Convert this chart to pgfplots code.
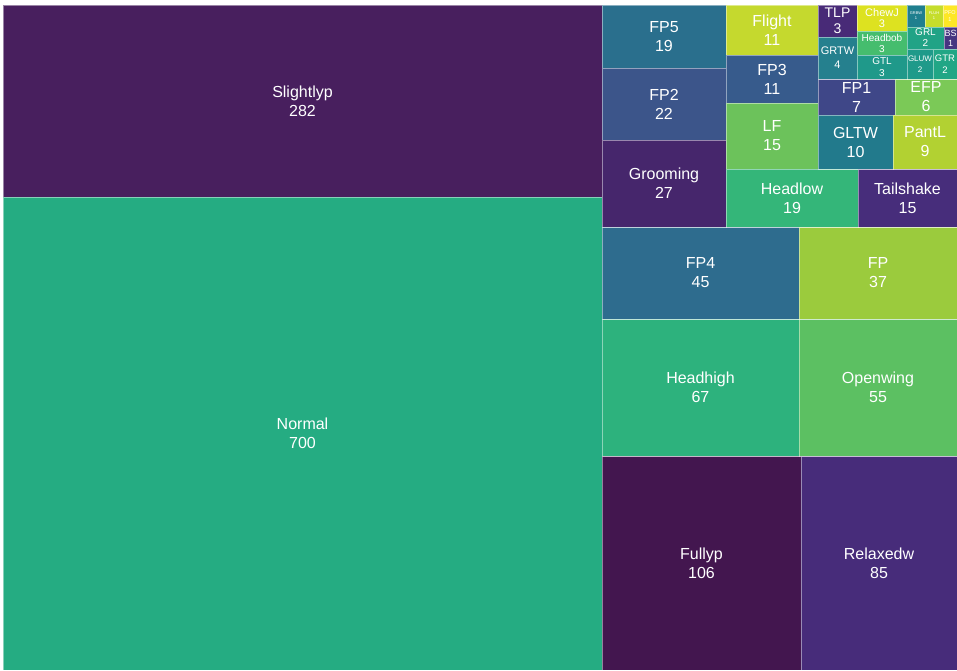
\documentclass[border=0pt]{standalone}
\usepackage{pgfplots}
\pgfplotsset{compat=1.18}
\usepackage{fontspec}
\setmainfont{Liberation Sans}
\definecolor{cSlight}{HTML}{481F5E}
\definecolor{cNormal}{HTML}{25AC82}
\definecolor{cFully}{HTML}{43164F}
\definecolor{cRelax}{HTML}{472C7A}
\definecolor{cHeadhigh}{HTML}{2DB27D}
\definecolor{cOpenwing}{HTML}{5CC062}
\definecolor{cFPfour}{HTML}{2E6C8E}
\definecolor{cFP}{HTML}{9BCB3D}
\definecolor{cFPfive}{HTML}{2A6F8D}
\definecolor{cFPtwo}{HTML}{3C558A}
\definecolor{cGroom}{HTML}{46266C}
\definecolor{cFlight}{HTML}{C5D92E}
\definecolor{cFPthree}{HTML}{375B8C}
\definecolor{cLF}{HTML}{6CC25B}
\definecolor{cHeadlow}{HTML}{34B679}
\definecolor{cTail}{HTML}{472D7B}
\definecolor{cFPone}{HTML}{3F4788}
\definecolor{cEFP}{HTML}{7BC957}
\definecolor{cGLTW}{HTML}{227A8C}
\definecolor{cPantL}{HTML}{B2D132}
\definecolor{cTLP}{HTML}{482A77}
\definecolor{cGRTW}{HTML}{25808E}
\definecolor{cChewJ}{HTML}{DDE220}
\definecolor{cHeadbob}{HTML}{45BD6E}
\definecolor{cGTL}{HTML}{1F998A}
\definecolor{cGRBW}{HTML}{1F7F8E}
\definecolor{cFLUH}{HTML}{C5DD2C}
\definecolor{cPFO}{HTML}{FDE725}
\definecolor{cGRL}{HTML}{21A386}
\definecolor{cBS}{HTML}{463581}
\definecolor{cGLUW}{HTML}{1F9A8A}
\definecolor{cGTR}{HTML}{21A685}
% x0 y0 x1 y1 color label fontsize baselineskip
\newcommand{\tile}[8]{%
  \addplot[fill=#5, draw=white, draw opacity=0.45, line width=0.9pt] coordinates {(#1,#2) (#3,#2) (#3,#4) (#1,#4)} -- cycle;
  \node[text=white, align=center, inner sep=0pt, font=\fontsize{#7}{#8}\selectfont] at (axis cs:{(#1+#3)/2},{(#2+#4)/2}) {#6};
}
\begin{document}
\begin{tikzpicture}
\useasboundingbox (0,0) rectangle (957pt,670pt);
\clip (0,0) rectangle (957pt,670pt);
\begin{axis}[
  at={(0,0)}, anchor=south west,
  scale only axis, width=957pt, height=670pt,
  xmin=0, xmax=957, ymin=0, ymax=670, y dir=reverse,
  hide axis, clip=true,
]
\tile{3}{5}{602}{197}{cSlight}{Slightlyp\\282}{16}{19}
\tile{3}{197}{602}{670}{cNormal}{Normal\\700}{16}{19}
\tile{602}{456}{801}{670}{cFully}{Fullyp\\106}{16}{19}
\tile{801}{456}{957}{670}{cRelax}{Relaxedw\\85}{16}{19}
\tile{602}{319}{799}{456}{cHeadhigh}{Headhigh\\67}{16}{19}
\tile{799}{319}{957}{456}{cOpenwing}{Openwing\\55}{16}{19}
\tile{602}{227}{799}{319}{cFPfour}{FP4\\45}{16}{19}
\tile{799}{227}{957}{319}{cFP}{FP\\37}{16}{19}
\tile{602}{5}{726}{68}{cFPfive}{FP5\\19}{16}{19}
\tile{602}{68}{726}{140}{cFPtwo}{FP2\\22}{16}{19}
\tile{602}{140}{726}{227}{cGroom}{Grooming\\27}{16}{19}
\tile{726}{5}{818}{55}{cFlight}{Flight\\11}{16}{19}
\tile{726}{55}{818}{103}{cFPthree}{FP3\\11}{16}{19}
\tile{726}{103}{818}{169}{cLF}{LF\\15}{16}{19}
\tile{726}{169}{858}{227}{cHeadlow}{Headlow\\19}{16}{19}
\tile{858}{169}{957}{227}{cTail}{Tailshake\\15}{16}{19}
\tile{818}{79}{895}{115}{cFPone}{FP1\\7}{16}{19}
\tile{895}{79}{957}{115}{cEFP}{EFP\\6}{16}{19}
\tile{818}{115}{893}{169}{cGLTW}{GLTW\\10}{16}{19}
\tile{893}{115}{957}{169}{cPantL}{PantL\\9}{16}{19}
\tile{818}{5}{857}{37}{cTLP}{TLP\\3}{14}{16}
\tile{818}{37}{857}{79}{cGRTW}{GRTW\\4}{11}{14}
\tile{857}{5}{907}{31}{cChewJ}{ChewJ\\3}{11}{11}
\tile{857}{31}{907}{55}{cHeadbob}{Headbob\\3}{10}{11}
\tile{857}{55}{907}{79}{cGTL}{GTL\\3}{10}{12}
\tile{907}{5}{925}{27}{cGRBW}{GRBW\\1}{4}{5}
\tile{925}{5}{943}{27}{cFLUH}{FLUH\\1}{4}{5}
\tile{943}{5}{957}{27}{cPFO}{PFO\\1}{5.5}{7}
\tile{907}{27}{944}{49}{cGRL}{GRL\\2}{10}{11}
\tile{944}{27}{957}{49}{cBS}{BS\\1}{9}{10}
\tile{907}{49}{933}{79}{cGLUW}{GLUW\\2}{8}{11}
\tile{933}{49}{957}{79}{cGTR}{GTR\\2}{9.5}{12}
\end{axis}
\end{tikzpicture}
\end{document}
